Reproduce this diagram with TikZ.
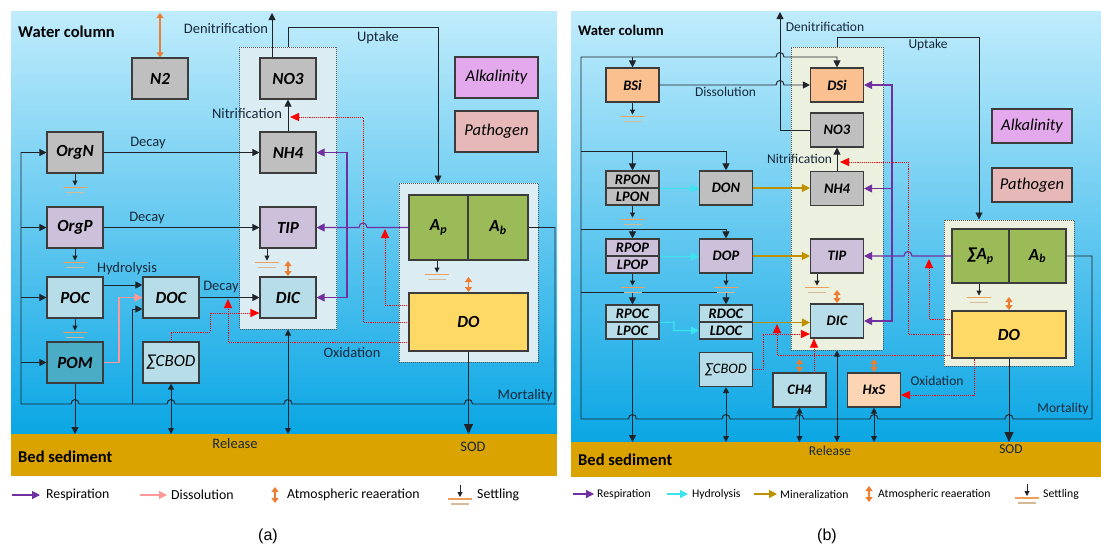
\documentclass[tikz,border=0pt]{standalone}
\usepackage{fontspec}
\setmainfont{Carlito}
\newfontfamily\capfont{Liberation Sans}
\usetikzlibrary{arrows.meta}
\newcommand{\fsz}[1]{\fontsize{#1}{#1}\selectfont}
% small bridge where a line passes over another one
\newcommand{\jumpR}[2]{-- ({#1-4},#2) .. controls ({#1-4},{#2-6}) and ({#1+4},{#2-6}) .. ({#1+4},#2)}
\newcommand{\jumpL}[2]{-- ({#1+4},#2) .. controls ({#1+4},{#2-6}) and ({#1-4},{#2-6}) .. ({#1-4},#2)}

\definecolor{waterTop}{RGB}{192,236,252}
\definecolor{waterMid}{RGB}{92,206,246}
\definecolor{waterBot}{RGB}{10,166,228}
\definecolor{bedC}{RGB}{219,163,0}
\definecolor{lineC}{RGB}{30,36,42}
\definecolor{labelC}{RGB}{22,40,58}
\definecolor{boxLine}{RGB}{60,60,60}
\definecolor{cGray}{RGB}{191,191,191}
\definecolor{cPurp}{RGB}{204,192,218}
\definecolor{cBlue}{RGB}{183,221,232}
\definecolor{cTeal}{RGB}{75,172,198}
\definecolor{cGreen}{RGB}{155,187,89}
\definecolor{cYellow}{RGB}{255,217,102}
\definecolor{cAlk}{RGB}{228,168,236}
\definecolor{cPath}{RGB}{230,185,184}
\definecolor{cOrange}{RGB}{250,192,144}
\definecolor{cPeach}{RGB}{252,213,180}
\definecolor{contA}{RGB}{220,236,243}
\definecolor{contB}{RGB}{235,241,222}
\definecolor{respC}{RGB}{112,48,160}
\definecolor{reaerC}{RGB}{237,125,49}
\definecolor{hydC}{RGB}{60,228,240}
\definecolor{minC}{RGB}{191,144,0}
\definecolor{dissC}{RGB}{255,153,153}
\definecolor{settleA}{RGB}{238,160,90}
\definecolor{settleB}{RGB}{214,186,150}

\tikzset{
  ln/.style={draw=lineC, line width=0.95pt},
  fwd/.style={-{Triangle[length=7pt,width=7pt]}},
  dbl/.style={{Triangle[length=6pt,width=6pt]}-{Triangle[length=6pt,width=6pt]}},
  bigfwd/.style={-{Triangle[length=10pt,width=9pt]}},
  resp/.style={draw=respC, line width=1.1pt, -{Triangle[length=8pt,width=8pt]}},
  oxd/.style={draw=red, densely dotted, line width=0.9pt, -{Triangle[length=9pt,width=8pt,fill=red]}},
  reaer/.style={draw=reaerC, line width=1.3pt, {Triangle[length=5pt,width=7pt]}-{Triangle[length=5pt,width=7pt]}},
  hyd/.style={draw=hydC, line width=1.1pt, -{Triangle[length=8pt,width=8pt]}},
  mine/.style={draw=minC, line width=1.1pt, -{Triangle[length=8pt,width=8pt]}},
  diss/.style={draw=dissC, line width=1.1pt, -{Triangle[length=8pt,width=8pt]}},
  boxed/.style={draw=boxLine, line width=1.1pt, inner sep=0pt, text=black},
  abox/.style={boxed, minimum width=56pt, minimum height=41pt, font=\bfseries\itshape\fsz{17}},
  bbox/.style={boxed, minimum width=53pt, minimum height=34pt, font=\bfseries\itshape\fsz{14.5}},
  hbox/.style={bbox, minimum height=17pt},
  ibox/.style={boxed, font=\itshape\fsz{16.5}},
  contbox/.style={draw=boxLine!85, densely dotted, line width=1pt, inner sep=0pt},
  lbl/.style={text=labelC, font=\fsz{14.5}, inner sep=0pt},
  lblb/.style={text=labelC, font=\fsz{13.5}, inner sep=0pt},
  head/.style={anchor=west, inner sep=0pt, text=black},
  settle/.pic={
    \draw[draw=lineC, line width=0.9pt, -{Triangle[length=5pt,width=5pt]}] (0,0) -- (0,12);
    \draw[settleA, line width=1.1pt] (-12,14) -- (12,14);
    \draw[settleB, line width=1.1pt] (-9,19) -- (9,19);
  }
}

\begin{document}
\begin{tikzpicture}[x=1pt,y=-1pt]
\useasboundingbox (0,0) rectangle (1101,550);
\fill[white] (0,0) rectangle (1101,550);

% ---------------- backgrounds
\shade[top color=waterTop, middle color=waterMid, bottom color=waterBot] (11,11) rectangle (557,434);
\fill[bedC] (11,434) rectangle (557,476);
\shade[top color=waterTop, middle color=waterMid, bottom color=waterBot] (571,11) rectangle (1101,442);
\fill[bedC] (571,442) rectangle (1101,477);

% ================= panel (a) =================
\node[contbox, fill=contA, minimum width=97pt, minimum height=282pt] (nutA) at (288,188) {};
\node[contbox, fill=contA, minimum width=139pt, minimum height=179pt] (algA) at (468.5,272.5) {};

\node[abox, fill=cGray] (N2) at (160,78.5) {N2};
\node[abox, fill=cGray] (NO3a) at (288,78.5) {NO3};
\node[abox, fill=cGray] (NH4a) at (288,152.5) {NH4};
\node[abox, fill=cPurp] (TIPa) at (288,227.5) {TIP};
\node[abox, fill=cBlue] (DICa) at (288,297.5) {DIC};
\node[abox, fill=cGray] (OrgN) at (75,152.5) {OrgN};
\node[abox, fill=cPurp] (OrgP) at (75,227.5) {OrgP};
\node[abox, fill=cBlue] (POC) at (75,297.5) {POC};
\node[abox, fill=cTeal] (POM) at (75,362.5) {POM};
\node[abox, fill=cBlue] (DOC) at (171,297.5) {DOC};
\node[abox, fill=cBlue, font=\itshape\fsz{17}] (CBODa) at (171,362.5) {∑CBOD};
\node[ibox, fill=cAlk, minimum width=83pt, minimum height=41pt] (Alka) at (496.5,77.5) {Alkalinity};
\node[ibox, fill=cPath, minimum width=83pt, minimum height=41pt] (Patha) at (496.5,131.5) {Pathogen};
\node[abox, fill=cGreen, minimum width=59pt, minimum height=65pt] (Apa) at (438.5,227.5) {A\textsubscript{p}};
\node[abox, fill=cGreen, minimum width=60pt, minimum height=65pt] (Aba) at (498,227.5) {A\textsubscript{b}};
\node[abox, fill=cYellow, minimum width=119pt, minimum height=58pt] (DOa) at (468.5,322) {DO};

\coordinate (bedA) at (0,434);
\coordinate (n2top) at (160,13);
\coordinate (denA) at (272,13);
\coordinate (upA) at (438,27);

% exchange with the atmosphere, denitrification, nitrification, uptake
\draw[reaer] (N2.north) -- (n2top);
\draw[ln, fwd] (NO3a.north -| denA) -- (denA);
\draw[ln, fwd] (NH4a.north) -- (NO3a.south);
\draw[ln, fwd] (nutA.north) -- (nutA.north |- upA) -- (upA) -- (upA |- algA.north);

% decay and hydrolysis
\draw[ln, fwd] (OrgN.east) -- (NH4a.west);
\draw[ln, fwd] (OrgP.east) -- (TIPa.west);
\draw[ln, fwd] (POC.east |- 0,285) -- (DOC.west |- 0,285);
\draw[diss] (POM.east) -- (119,362.5) -- (119,297.5) -- (DOC.west);
\draw[ln, fwd] (132,404) -- (132,309) -- (DOC.west |- 0,309);
\draw[ln, fwd] (DOC.east) -- (DICa.west);

% respiration
\draw[resp] (Apa.west) \jumpL{363}{227.5} -- (TIPa.east);
\draw[resp] (347,227.5) -- (347,152.5) -- (NH4a.east);
\draw[resp] (347,227.5) -- (347,297.5) -- (DICa.east);

% oxygen demand
\draw[oxd] (DOa.west) -- (363,322) -- (363,117) -- (290,117);
\draw[oxd] (DOa.west |- 0,305) -- (385,305) -- (385,229);
\draw[oxd] (DOa.west |- 0,342) -- (228,342) -- (228,299);
\draw[oxd] (CBODa.north) -- (171,332) -- (210,332) -- (210,313) -- (DICa.west |- 0,313);

% reaeration
\draw[reaer] (288,261) -- (288,276);
\draw[reaer] (468.5,277) -- (468.5,292);

% settling
\pic at (OrgN.south) {settle};
\pic at (OrgP.south) {settle};
\pic at (POC.south) {settle};
\pic at ([xshift=-21pt]TIPa.south) {settle};
\pic at ([xshift=-1.5pt]Apa.south) {settle};

% mortality bus
\draw[ln, fwd] (Aba.east) -- (555,227.5) -- (555,404) \jumpL{468.5}{404} \jumpL{288}{404} \jumpL{171}{404} \jumpL{75}{404} -- (21,404) -- (21,152.5) -- (OrgN.west);
\draw[ln, fwd] (21,227.5) -- (OrgP.west);
\draw[ln, fwd] (21,297.5) -- (POC.west);
\draw[ln, fwd] (21,362.5) -- (POM.west);

% exchange with the bed
\draw[ln, fwd] (POM.south) -- (POM.south |- bedA);
\draw[ln, dbl] (CBODa.south) -- (CBODa.south |- bedA);
\draw[ln, dbl] (nutA.south) -- (nutA.south |- bedA);
\draw[ln, bigfwd] (DOa.south) -- (DOa.south |- bedA);

% labels
\node[head, font=\bfseries\fsz{16.5}] (wcA) at (18,32) {Water column};
\node[lbl] (denAl) at (226,29) {Denitrification};
\node[lbl] (uptAl) at (378,38) {Uptake};
\node[lbl] (nitAl) at (247,114) {Nitrification};
\node[lbl] (dec1) at (148,143) {Decay};
\node[lbl] (dec2) at (147,218) {Decay};
\node[lbl] (hydAl) at (127,269) {Hydrolysis};
\node[lbl] (dec3) at (221,287) {Decay};
\node[lbl] (oxAl) at (352,353) {Oxidation};
\node[lbl] (morAl) at (525,396) {Mortality};
\node[lbl] (relAl) at (235,444) {Release};
\node[lbl] (sodAl) at (473,447) {SOD};
\node[head, font=\bfseries\fsz{16.5}] (bsA) at (18,457) {Bed sediment};

% legend (a)
\draw[resp] (12,495) -- (40,495);
\node[head, font=\fsz{13.8}] (lgA1) at (46,495) {Respiration};
\draw[diss] (140,495) -- (167,495);
\node[head, font=\fsz{13.8}] (lgA2) at (171,495) {Dissolution};
\draw[reaer] (275,487) -- (275,503);
\node[head, font=\fsz{13.8}] (lgA3) at (287,495) {Atmospheric reaeration};
\pic at (460,485) {settle};
\node[head, font=\fsz{13.8}] (lgA4) at (477,495) {Settling};
\node[font=\capfont\fsz{16}, inner sep=0pt] (capA) at (268,536) {(a)};

% ================= panel (b) =================
\node[contbox, fill=contB, minimum width=92pt, minimum height=303pt] (nutB) at (837,198.5) {};
\node[contbox, fill=contB, minimum width=130pt, minimum height=146pt] (algB) at (1009,293) {};

\node[bbox, fill=cOrange] (BSi) at (632.5,85) {BSi};
\node[bbox, fill=cOrange] (DSi) at (837,85) {DSi};
\node[bbox, fill=cGray] (NO3b) at (837,130) {NO3};
\node[bbox, fill=cGray] (NH4b) at (837,188.5) {NH4};
\node[bbox, fill=cPurp] (TIPb) at (837,256) {TIP};
\node[bbox, fill=cBlue] (DICb) at (837,321) {DIC};
\node[hbox, fill=cGray] (RPON) at (632.5,179.5) {RPON};
\node[hbox, fill=cGray] (LPON) at (632.5,196.5) {LPON};
\node[bbox, fill=cGray] (DON) at (726,188) {DON};
\node[hbox, fill=cPurp] (RPOP) at (632.5,247.5) {RPOP};
\node[hbox, fill=cPurp] (LPOP) at (632.5,264.5) {LPOP};
\node[bbox, fill=cPurp] (DOP) at (726,256) {DOP};
\node[hbox, fill=cBlue] (RPOC) at (632.5,313.5) {RPOC};
\node[hbox, fill=cBlue] (LPOC) at (632.5,330.5) {LPOC};
\node[hbox, fill=cBlue] (RDOC) at (726,313.5) {RDOC};
\node[hbox, fill=cBlue] (LDOC) at (726,330.5) {LDOC};
\node[bbox, fill=cBlue, font=\itshape\fsz{14.5}] (CBODb) at (726,369.5) {∑CBOD};
\node[bbox, fill=cBlue] (CH4) at (799.5,390) {CH4};
\node[bbox, fill=cPeach] (HxS) at (874,390) {HxS};
\node[ibox, fill=cAlk, minimum width=80pt, minimum height=34pt] (Alkb) at (1032,126) {Alkalinity};
\node[ibox, fill=cPath, minimum width=80pt, minimum height=34pt] (Pathb) at (1032,185) {Pathogen};
\node[abox, fill=cGreen, minimum width=57pt, minimum height=54pt] (SAp) at (980.5,256) {∑A\textsubscript{p}};
\node[abox, fill=cGreen, minimum width=57pt, minimum height=54pt] (Abb) at (1037.5,256) {A\textsubscript{b}};
\node[abox, fill=cYellow, minimum width=114pt, minimum height=47pt] (DOb) at (1009,334.5) {DO};

\coordinate (bedB) at (0,442);
\coordinate (denB) at (780,12);
\coordinate (upB) at (979,37);

% denitrification, nitrification, uptake
\draw[ln, fwd] (NO3b.west) -- (NO3b.west -| denB) -- (denB);
\draw[ln, fwd] (NH4b.north) -- (NO3b.south);
\draw[ln, fwd] (nutB.north) -- (nutB.north |- upB) -- (upB) -- (upB |- algB.north);

% mortality bus feeding the particulate pools
\draw[ln, fwd] (Abb.east) -- (1092,256) -- (1092,419) \jumpL{1009}{419} \jumpL{874}{419} \jumpL{799.5}{419} \jumpL{726}{419} \jumpL{632.5}{419} -- (581,419) -- (581,57) \jumpR{780}{57} -- (837,57) -- (DSi.north);
\draw[ln, fwd] (632.5,57) -- (BSi.north);
\draw[ln, fwd] (581,151) -- (726,151) -- (DON.north);
\draw[ln, fwd] (632.5,151) -- (RPON.north);
\draw[ln, fwd] (581,229) -- (726,229) -- (DOP.north);
\draw[ln, fwd] (632.5,229) -- (RPOP.north);
\draw[ln, fwd] (581,292) -- (726,292) -- (RDOC.north);
\draw[ln, fwd] (632.5,292) -- (RPOC.north);

% dissolution
\draw[ln, fwd] (BSi.east) \jumpR{780}{85} -- (DSi.west);

% hydrolysis and mineralization
\draw[hyd] (RPON.south east) -- (DON.west |- RPON.south east);
\draw[hyd] (RPOP.south east) -- (DOP.west |- RPOP.south east);
\draw[hyd] (RPOC.south east) -- (674,322) -- (674,330.5) -- (LDOC.west);
\draw[mine] (DON.east) -- (NH4b.west |- DON.east);
\draw[mine] (DOP.east) -- (TIPb.west);
\draw[mine] (RDOC.south east) -- (DICb.west |- RDOC.south east);

% respiration
\draw[resp] (SAp.west) \jumpL{908}{256} -- (TIPb.east);
\draw[resp] (892,256) -- (892,85) -- (DSi.east);
\draw[resp] (892,188.5) -- (NH4b.east);
\draw[resp] (892,256) -- (892,321) -- (DICb.east);

% oxygen demand
\draw[oxd] (DOb.west |- 0,334) -- (908,334) -- (908,162) -- (840,162);
\draw[oxd] (DOb.west |- 0,319) -- (929,319) -- (929,259);
\draw[oxd] (DOb.west |- 0,355) -- (777,355) -- (777,324);
\draw[oxd] (CBODb.east) -- (763,369.5) -- (763,334) -- (DICb.west |- 0,334);
\draw[oxd] (CH4.north -| 814,0) -- (DICb.south -| 814,0);
\draw[oxd] (DOb.south -| 974,0) -- (974,395) -- (HxS.east |- 0,395);

% reaeration
\draw[reaer] (837,290) -- (837,303);
\draw[reaer] (1009,297) -- (1009,310);
\draw[reaer] (799.5,359) -- (799.5,372);
\draw[reaer] (874,359) -- (874,372);

% settling
\pic at (BSi.south) {settle};
\pic at (LPON.south) {settle};
\pic at (LPOP.south) {settle};
\pic at (DOP.south) {settle};
\pic at ([xshift=-20pt]TIPb.south) {settle};
\pic at ([xshift=-1.5pt]SAp.south) {settle};

% exchange with the bed
\draw[ln, fwd] (LPOC.south) -- (LPOC.south |- bedB);
\draw[ln, dbl] (CBODb.south) -- (CBODb.south |- bedB);
\draw[ln, dbl] (CH4.south) -- (CH4.south |- bedB);
\draw[ln, dbl] (nutB.south) -- (nutB.south |- bedB);
\draw[ln, dbl] (HxS.south) -- (HxS.south |- bedB);
\draw[ln, bigfwd] (DOb.south) -- (DOb.south |- bedB);

% labels
\node[head, font=\bfseries\fsz{14.6}] (wcB) at (578,30) {Water column};
\node[lblb] (denBl) at (825,27) {Denitrification};
\node[lblb] (uptBl) at (928,45) {Uptake};
\node[lblb] (dissBl) at (725.5,92) {Dissolution};
\node[lblb] (nitBl) at (799.5,159) {Nitrification};
\node[lblb] (oxBl) at (937,381) {Oxidation};
\node[lblb] (morBl) at (1063,409) {Mortality};
\node[lblb] (relBl) at (830,451) {Release};
\node[lblb] (sodBl) at (1011,449) {SOD};
\node[head, font=\bfseries\fsz{16.5}] (bsB) at (578,460) {Bed sediment};

% legend (b)
\draw[resp] (573,494) -- (594,494);
\node[head, font=\fsz{11.7}] (lgB1) at (597,494) {Respiration};
\draw[hyd] (667,494) -- (688,494);
\node[head, font=\fsz{11.7}] (lgB2) at (692,494) {Hydrolysis};
\draw[mine] (754,494) -- (777,494);
\node[head, font=\fsz{11.7}] (lgB3) at (780,494) {Mineralization};
\draw[reaer] (869,486) -- (869,502);
\node[head, font=\fsz{11.7}] (lgB4) at (878,494) {Atmospheric reaeration};
\pic at (1027,484) {settle};
\node[head, font=\fsz{11.7}] (lgB5) at (1043,494) {Settling};
\node[font=\capfont\fsz{16}, inner sep=0pt] (capB) at (827,536) {(b)};
\end{tikzpicture}
\end{document}
